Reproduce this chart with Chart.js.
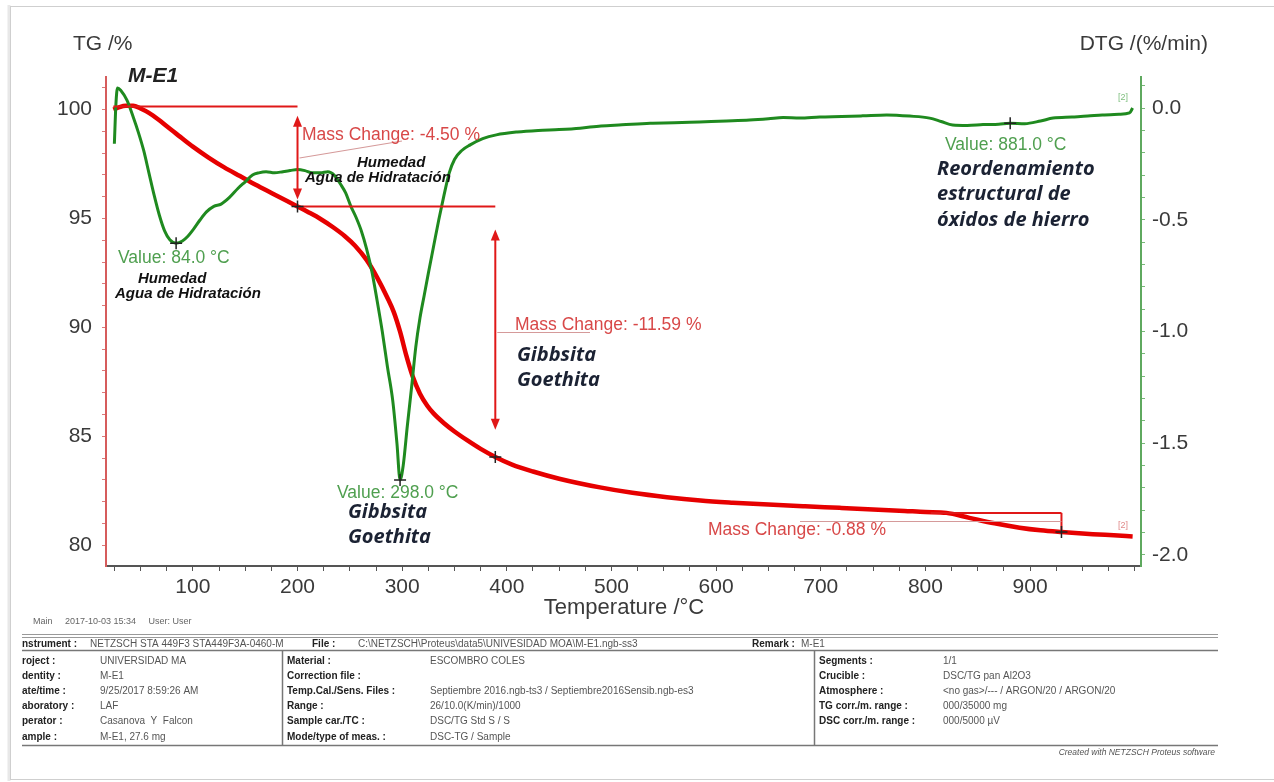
<!DOCTYPE html>
<html>
<head>
<meta charset="utf-8">
<script src="https://cdn.jsdelivr.net/npm/chart.js@4.4.1/dist/chart.umd.min.js"></script>
<style>
  html, body { margin: 0; padding: 0; background: #fff; }
  #tg { display: block; }
</style>
</head>
<body>
<canvas id="tg" width="1274" height="782"></canvas>
<script>
// TG curve (mass %, left axis)
const tgTemp = [24, 30, 36, 43, 50, 58, 67, 76, 88, 100, 115, 130, 145, 160, 176, 190, 200, 210, 222, 234,
    245, 255, 266, 276, 286, 292, 298, 304, 310, 317, 324, 330, 340, 350, 362, 375, 389, 405, 425, 450,
    489, 520, 553, 585, 616, 650, 685, 718, 750, 780, 800, 820, 842, 866, 890, 910, 930, 960, 980, 998];
const tgMass = [100.0, 100.12, 100.18, 100.18, 100.05, 99.85, 99.55, 99.2, 98.75, 98.3, 97.8, 97.35, 96.95, 96.55, 96.15, 95.8, 95.55, 95.3, 94.98, 94.6,
    94.2, 93.75, 93.1, 92.3, 91.35, 90.7, 89.8, 88.7, 87.75, 86.95, 86.4, 86.05, 85.6, 85.22, 84.82, 84.42, 84.05, 83.7, 83.38, 83.05,
    82.65, 82.4, 82.2, 82.05, 81.95, 81.86, 81.78, 81.71, 81.64, 81.57, 81.52, 81.48, 81.25, 81.0, 80.8, 80.68, 80.6, 80.5, 80.45, 80.4];

// DTG curve (%/min, right axis)
const dtgTemp = [25, 26.5, 28, 31, 37, 43, 48, 53, 58, 63, 68, 73, 78, 84, 90, 95, 101, 107, 113, 120,
    127, 135, 143, 150, 157, 163, 170, 178, 186, 193, 200, 207, 214, 222, 229, 235, 241, 246, 251, 256,
    261, 266, 271, 276, 281, 286, 291, 295, 298, 301, 305, 309, 313, 317, 321, 325, 330, 335, 340, 345,
    350, 357, 365, 377, 390, 410, 430, 450, 470, 490, 510, 537, 560, 584, 610, 632, 650, 664, 680, 699,
    720, 740, 763, 785, 804, 815, 826, 840, 855, 870, 881, 895, 910, 922, 940, 955, 969, 985, 995, 998];
const dtgRate = [-0.16, 0.02, 0.09, 0.08, 0.035, -0.04, -0.11, -0.19, -0.29, -0.39, -0.48, -0.55, -0.59, -0.605, -0.595, -0.575, -0.54, -0.50, -0.465, -0.44,
    -0.43, -0.40, -0.36, -0.33, -0.30, -0.29, -0.285, -0.29, -0.285, -0.28, -0.275, -0.28, -0.29, -0.29, -0.285, -0.30, -0.34, -0.38, -0.44, -0.49,
    -0.55, -0.63, -0.73, -0.86, -1.00, -1.16, -1.31, -1.50, -1.665, -1.60, -1.42, -1.25, -1.07, -0.94, -0.84, -0.74, -0.62, -0.50, -0.39, -0.29,
    -0.23, -0.19, -0.165, -0.137, -0.12, -0.107, -0.10, -0.096, -0.09, -0.08, -0.075, -0.068, -0.066, -0.062, -0.058, -0.054, -0.048, -0.042, -0.045, -0.04,
    -0.038, -0.035, -0.031, -0.036, -0.045, -0.06, -0.076, -0.078, -0.074, -0.072, -0.068, -0.07, -0.058, -0.045, -0.04, -0.036, -0.031, -0.028, -0.022, 0.0];

// tick labels
const tempTicks = [100, 200, 300, 400, 500, 600, 700, 800, 900];
const tgTicks = [80, 85, 90, 95, 100];
const dtgTicks = [0, -0.5, -1, -1.5, -2];

// mass change steps
const stepStart = [24, 200, 805];
const stepEnd = [200, 389, 930];
const stepTop = [100.14, 95.55, 81.48];
const stepBottom = [95.55, 84.05, 80.6];
const arrowTop = [99.72, 94.5];
const arrowBottom = [95.87, 85.3];
const stepLabels = ['Mass Change: -4.50 %', 'Mass Change: -11.59 %', 'Mass Change: -0.88 %'];

// DTG peaks
const peakTemp = [84, 298, 881];
const peakRate = [-0.605, -1.665, -0.068];
const peakLabels = ['Value: 84.0 °C', 'Value: 298.0 °C', 'Value: 881.0 °C'];

const SANS = '"Liberation Sans", Arial, sans-serif';
const NOTE = '"Open Sans", sans-serif';

function cross(ctx, x, y) {
    ctx.save();
    ctx.strokeStyle = '#222';
    ctx.lineWidth = 1.5;
    ctx.beginPath();
    ctx.moveTo(x - 6, y); ctx.lineTo(x + 6, y);
    ctx.moveTo(x, y - 6); ctx.lineTo(x, y + 6);
    ctx.stroke();
    ctx.restore();
}

function arrowHead(ctx, x, y, dir) {
    ctx.beginPath();
    ctx.moveTo(x, y);
    ctx.lineTo(x - 4.5, y - dir * 11);
    ctx.lineTo(x + 4.5, y - dir * 11);
    ctx.closePath();
    ctx.fill();
}

function line(ctx, x1, y1, x2, y2) {
    ctx.beginPath();
    ctx.moveTo(x1, y1);
    ctx.lineTo(x2, y2);
    ctx.stroke();
}

function text(ctx, s, x, y, font, color, align) {
    ctx.font = font;
    ctx.fillStyle = color;
    ctx.textAlign = align || 'left';
    ctx.textBaseline = 'alphabetic';
    ctx.fillText(s, x, y);
}

function drawFooter(ctx) {
    text(ctx, 'Main     2017-10-03 15:34     User: User', 33, 624, '9px ' + SANS, '#666');

    ctx.strokeStyle = '#999';
    ctx.lineWidth = 1;
    line(ctx, 22, 634.5, 1218, 634.5);
    line(ctx, 22, 637.5, 1218, 637.5);
    ctx.strokeStyle = '#777';
    ctx.lineWidth = 1.5;
    line(ctx, 22, 650.5, 1218, 650.5);
    line(ctx, 22, 745.5, 1218, 745.5);
    line(ctx, 282.5, 651, 282.5, 745);
    line(ctx, 814.5, 651, 814.5, 745);

    const B = 'bold 10px ' + SANS, N = '10px ' + SANS;
    const lab = '#222', val = '#555';
    text(ctx, 'nstrument :', 22, 647, B, lab);
    text(ctx, 'NETZSCH STA 449F3 STA449F3A-0460-M', 90, 647, N, val);
    text(ctx, 'File :', 312, 647, B, lab);
    text(ctx, 'C:\\NETZSCH\\Proteus\\data5\\UNIVESIDAD MOA\\M-E1.ngb-ss3', 358, 647, N, val);
    text(ctx, 'Remark :', 752, 647, B, lab);
    text(ctx, 'M-E1', 801, 647, N, val);

    const rowsY = [664, 679, 694, 709, 724, 740];
    const leftLab = ['roject :', 'dentity :', 'ate/time :', 'aboratory :', 'perator :', 'ample :'];
    const leftVal = ['UNIVERSIDAD MA', 'M-E1', '9/25/2017 8:59:26 AM', 'LAF', 'Casanova  Y  Falcon', 'M-E1, 27.6 mg'];
    const midLab = ['Material :', 'Correction file :', 'Temp.Cal./Sens. Files :', 'Range :', 'Sample car./TC :', 'Mode/type of meas. :'];
    const midVal = ['ESCOMBRO COLES', '', 'Septiembre 2016.ngb-ts3 / Septiembre2016Sensib.ngb-es3', '26/10.0(K/min)/1000', 'DSC/TG Std S / S', 'DSC-TG / Sample'];
    const rightLab = ['Segments :', 'Crucible :', 'Atmosphere :', 'TG corr./m. range :', 'DSC corr./m. range :'];
    const rightVal = ['1/1', 'DSC/TG pan Al2O3', '<no gas>/--- / ARGON/20 / ARGON/20', '000/35000 mg', '000/5000 µV'];
    rowsY.forEach((y, i) => {
        text(ctx, leftLab[i], 22, y, B, lab);
        text(ctx, leftVal[i], 100, y, N, val);
        text(ctx, midLab[i], 287, y, B, lab);
        text(ctx, midVal[i], 430, y, N, val);
        if (i < rightLab.length) {
            text(ctx, rightLab[i], 819, y, B, lab);
            text(ctx, rightVal[i], 943, y, N, val);
        }
    });
    text(ctx, 'Created with NETZSCH Proteus software', 1215, 755, 'italic 8.5px ' + SANS, '#555', 'right');
}

const overlay = {
    id: 'overlay',
    beforeDraw(chart) {
        const ctx = chart.ctx;
        ctx.save();
        ctx.fillStyle = '#fff';
        ctx.fillRect(0, 0, chart.width, chart.height);
        ctx.strokeStyle = '#e8e8e8';
        ctx.lineWidth = 3;
        line(ctx, 9, 5, 9, 781);
        ctx.strokeStyle = '#cfcfcf';
        ctx.lineWidth = 1;
        line(ctx, 10.5, 6, 10.5, 780);
        line(ctx, 10, 6.5, 1274, 6.5);
        line(ctx, 10, 779.5, 1274, 779.5);
        ctx.restore();
    },
    afterDatasetsDraw(chart) {
        const ctx = chart.ctx;
        const X = v => chart.scales.x.getPixelForValue(v);
        const YL = v => chart.scales.yL.getPixelForValue(v);
        const YR = v => chart.scales.yR.getPixelForValue(v);
        ctx.save();

        // mass change brackets
        ctx.strokeStyle = '#e01818';
        ctx.fillStyle = '#e01818';
        ctx.lineWidth = 2;
        stepLabels.forEach((s, i) => {
            line(ctx, X(stepStart[i]), YL(stepTop[i]), X(stepEnd[i]), YL(stepTop[i]));
        });
        line(ctx, X(stepEnd[2]), YL(stepTop[2]), X(stepEnd[2]), YL(stepBottom[2]));
        arrowTop.forEach((t, i) => {
            const x = X(stepEnd[i]);
            line(ctx, x, YL(t) + 6, x, YL(arrowBottom[i]) - 6);
            arrowHead(ctx, x, YL(t), -1);
            arrowHead(ctx, x, YL(arrowBottom[i]), 1);
        });

        // leader lines
        ctx.strokeStyle = '#d59a9a';
        ctx.lineWidth = 1.2;
        line(ctx, X(stepEnd[0]) + 2, 158, 402, 141);
        line(ctx, X(stepEnd[1]) + 2, 332.5, 590, 332.5);
        line(ctx, 800, 521.5, X(stepEnd[2]), 521.5);

        stepLabels.forEach((s, i) => cross(ctx, X(stepEnd[i]), YL(stepBottom[i])));
        peakLabels.forEach((s, i) => cross(ctx, X(peakTemp[i]), YR(peakRate[i])));

        // labels
        const red = '#d84848', green = '#4f9f4f';
        const f = '17.5px ' + SANS;
        text(ctx, stepLabels[0], 302, 140, f, red);
        text(ctx, stepLabels[1], 515, 330, f, red);
        text(ctx, stepLabels[2], 708, 535, f, red);
        text(ctx, peakLabels[0], 118, 263, f, green);
        text(ctx, peakLabels[1], 337, 498, f, green);
        text(ctx, peakLabels[2], 945, 150, f, green);
        text(ctx, '[2]', 1118, 100, '9px ' + SANS, '#7fbf7f');
        text(ctx, '[2]', 1118, 528, '9px ' + SANS, '#e08a8a');

        // interpretation notes
        const hb = 'bold italic 15px ' + SANS;
        text(ctx, 'Humedad', 357, 167, hb, '#111');
        text(ctx, 'Agua de Hidratación', 305, 182, hb, '#111');
        text(ctx, 'Humedad', 138, 283, hb, '#111');
        text(ctx, 'Agua de Hidratación', 115, 298, hb, '#111');

        const nb = 'bold italic 20px ' + NOTE;
        const navy = '#1b2233';
        text(ctx, 'Gibbsita', 517, 361, nb, navy);
        text(ctx, 'Goethita', 517, 386, nb, navy);
        text(ctx, 'Gibbsita', 348, 518, nb, navy);
        text(ctx, 'Goethita', 348, 543, nb, navy);
        text(ctx, 'Reordenamiento', 937, 175, nb, navy);
        text(ctx, 'estructural de', 937, 200, nb, navy);
        text(ctx, 'óxidos de hierro', 937, 226, nb, navy);
        ctx.restore();
    },
    afterDraw(chart) {
        const ctx = chart.ctx;
        ctx.save();
        text(ctx, 'TG /%', 73, 50, '21px ' + SANS, '#3a3a3a');
        text(ctx, 'DTG /(%/min)', 1208, 50, '21px ' + SANS, '#3a3a3a', 'right');
        text(ctx, 'M-E1', 128, 82, 'bold italic 21px ' + SANS, '#222');
        text(ctx, 'Temperature /°C', 624, 614, '22px ' + SANS, '#3a3a3a', 'center');
        drawFooter(ctx);
        ctx.restore();
    }
};

const tickFont = { family: SANS, size: 21 };

new Chart(document.getElementById('tg'), {
    type: 'line',
    data: {
        datasets: [
            {
                label: 'DTG',
                data: dtgTemp.map((t, i) => ({ x: t, y: dtgRate[i] })),
                yAxisID: 'yR',
                borderColor: '#1f8a1f',
                borderWidth: 3,
                pointRadius: 0,
                cubicInterpolationMode: 'monotone'
            },
            {
                label: 'TG',
                data: tgTemp.map((t, i) => ({ x: t, y: tgMass[i] })),
                yAxisID: 'yL',
                borderColor: '#e60000',
                borderWidth: 4.5,
                pointRadius: 0,
                cubicInterpolationMode: 'monotone'
            }
        ]
    },
    options: {
        responsive: false,
        animation: false,
        layout: { padding: { top: 77, left: 0, right: 0, bottom: 0 } },
        plugins: { legend: { display: false }, tooltip: { enabled: false } },
        scales: {
            x: {
                type: 'linear',
                min: 17,
                max: 1006,
                afterFit(s) { s.height = 216; },
                ticks: {
                    stepSize: 25, includeBounds: false, autoSkip: false, maxRotation: 0,
                    padding: 4, color: '#3a3a3a', font: tickFont,
                    callback: v => tempTicks.includes(v) ? String(v) : ''
                },
                grid: { drawOnChartArea: false, tickLength: 5, color: '#555' },
                border: { color: '#555', width: 2 }
            },
            yL: {
                position: 'left',
                min: 79.04,
                max: 101.5,
                afterFit(s) { s.width = 106; },
                ticks: {
                    stepSize: 1, includeBounds: false, autoSkip: false, padding: 10, color: '#3a3a3a', font: tickFont,
                    callback: v => tgTicks.includes(v) ? String(v) : ''
                },
                grid: { drawOnChartArea: false, tickLength: 4, color: '#d97b7b' },
                border: { color: '#d65c5c', width: 2 }
            },
            yR: {
                position: 'right',
                min: -2.05,
                max: 0.139,
                afterFit(s) { s.width = 133; },
                ticks: {
                    stepSize: 0.1, includeBounds: false, autoSkip: false, padding: 7, color: '#3a3a3a', font: tickFont,
                    callback: v => dtgTicks.some(t => Math.abs(t - v) < 1e-6) ? v.toFixed(1) : ''
                },
                grid: { drawOnChartArea: false, tickLength: 4, color: '#78b878' },
                border: { color: '#5fa95f', width: 2 }
            }
        }
    },
    plugins: [overlay]
});
</script>
</body>
</html>
